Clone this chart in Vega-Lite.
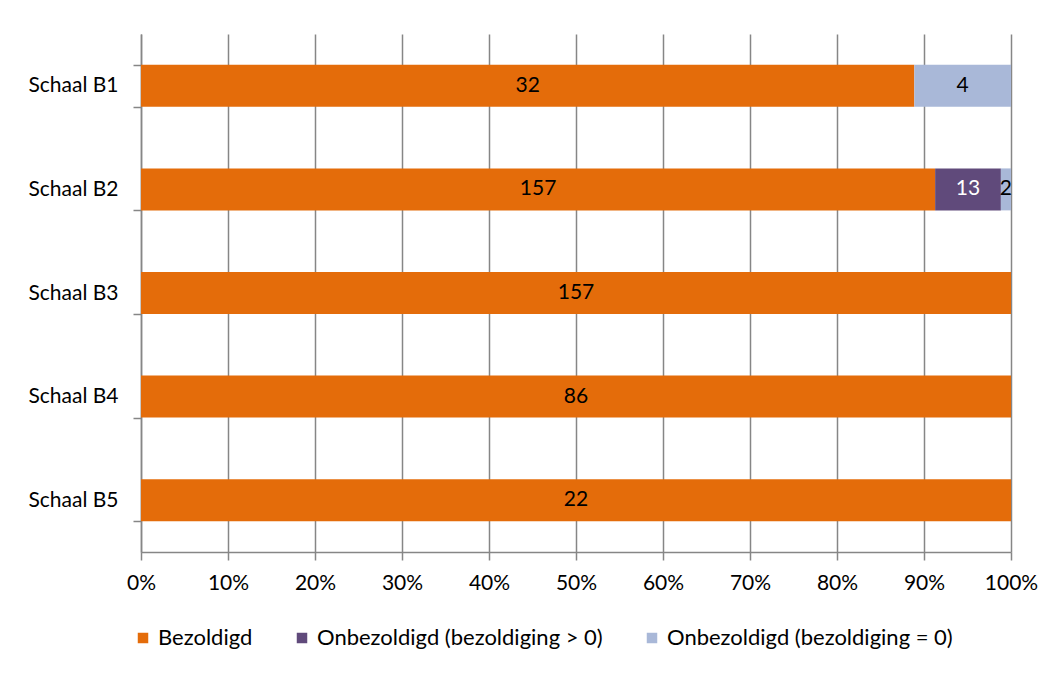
{
  "$schema": "https://vega.github.io/schema/vega-lite/v6.json",
  "width": 870,
  "height": 518,
  "autosize": "none",
  "padding": {"left": 141, "top": 34, "right": 48, "bottom": 121},
  "background": "white",
  "config": {
    "view": {"stroke": null},
    "font": "Lato",
    "axis": {"labelFont": "Lato", "labelFontSize": 21, "labelColor": "#000000", "domainColor": "#868686", "tickColor": "#868686", "domainWidth": 1.5, "tickWidth": 1.5}
  },
  "data": {
    "values": [
      {"schaal": "Schaal B1", "cat": "Bezoldigd", "order": 1, "n": 32},
      {"schaal": "Schaal B1", "cat": "Onbezoldigd (bezoldiging > 0)", "order": 2, "n": 0},
      {"schaal": "Schaal B1", "cat": "Onbezoldigd (bezoldiging = 0)", "order": 3, "n": 4},
      {"schaal": "Schaal B2", "cat": "Bezoldigd", "order": 1, "n": 157},
      {"schaal": "Schaal B2", "cat": "Onbezoldigd (bezoldiging > 0)", "order": 2, "n": 13},
      {"schaal": "Schaal B2", "cat": "Onbezoldigd (bezoldiging = 0)", "order": 3, "n": 2},
      {"schaal": "Schaal B3", "cat": "Bezoldigd", "order": 1, "n": 157},
      {"schaal": "Schaal B4", "cat": "Bezoldigd", "order": 1, "n": 86},
      {"schaal": "Schaal B5", "cat": "Bezoldigd", "order": 1, "n": 22}
    ]
  },
  "transform": [
    {"stack": "n", "groupby": ["schaal"], "sort": [{"field": "order"}], "offset": "normalize", "as": ["x0", "x1"]},
    {"calculate": "(datum.x0 + datum.x1) / 2", "as": "xm"}
  ],
  "encoding": {
    "y": {
      "field": "schaal", "type": "nominal", "title": null,
      "scale": {"paddingInner": 0.595, "paddingOuter": 0.2975},
      "axis": {"tickBand": "extent", "tickSize": 8, "labelPadding": 15, "labelLimit": 200, "labelBaseline": "middle", "grid": false}
    }
  },
  "layer": [
    {
      "mark": {"type": "bar"},
      "encoding": {
        "x": {
          "field": "x0", "type": "quantitative", "title": null,
          "scale": {"domain": [0, 1], "nice": false},
          "axis": {"format": ".0%", "values": [0,0.1,0.2,0.3,0.4,0.5,0.6,0.7,0.8,0.9,1], "labelOverlap": false, "labelFlush": false, "grid": true, "gridColor": "#868686", "gridWidth": 1.5, "tickSize": 8, "labelPadding": 12}
        },
        "x2": {"field": "x1"},
        "color": {
          "field": "cat", "type": "nominal", "title": null,
          "scale": {"domain": ["Bezoldigd", "Onbezoldigd (bezoldiging > 0)", "Onbezoldigd (bezoldiging = 0)"], "range": ["#E46C0A", "#604A7B", "#A9B8D8"]},
          "legend": {"orient": "none", "legendX": -9, "legendY": 593, "direction": "horizontal", "symbolType": "square", "symbolSize": 110, "symbolStrokeWidth": 0, "labelFont": "Lato", "labelFontSize": 22, "labelColor": "#000000", "labelOffset": 4, "columnPadding": 38, "labelLimit": 400, "padding": 0}
        }
      }
    },
    {
      "transform": [{"filter": "datum.n > 0"}],
      "mark": {"type": "text", "fontSize": 21, "font": "Lato", "baseline": "middle", "align": "center"},
      "encoding": {
        "x": {"field": "xm", "type": "quantitative"},
        "text": {"field": "n", "type": "quantitative"},
        "color": {
          "condition": {"test": "datum.order == 2", "value": "#ffffff"},
          "value": "#000000"
        }
      }
    }
  ]
}
